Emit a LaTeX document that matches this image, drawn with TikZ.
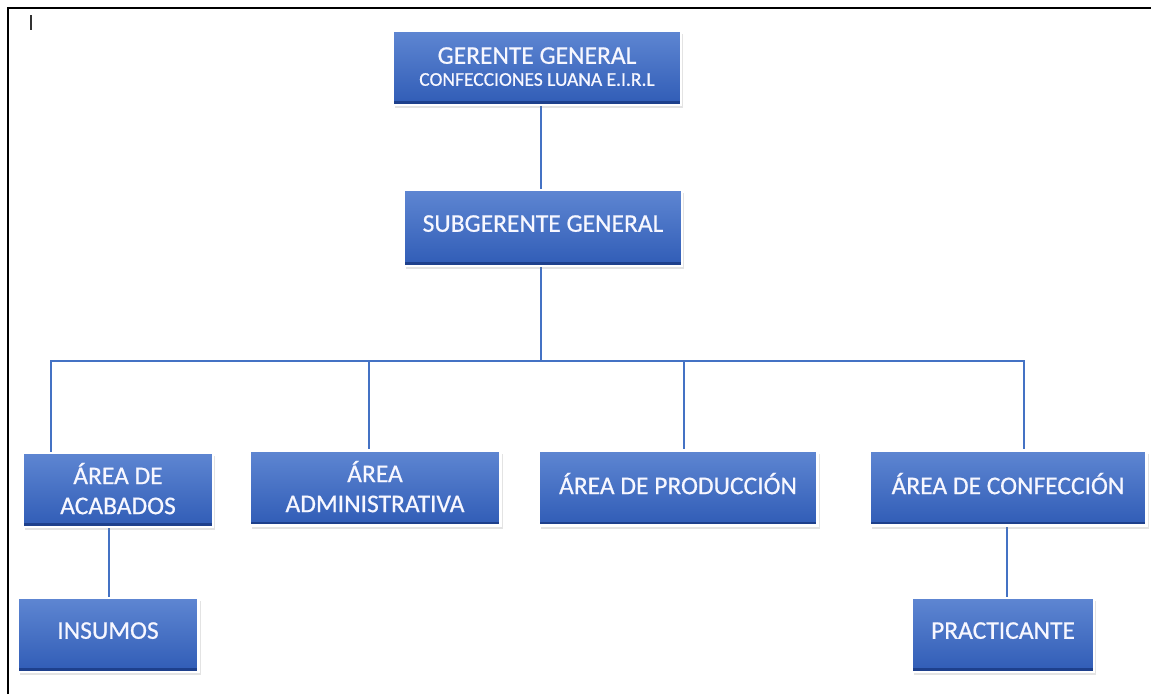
\documentclass[tikz,border=0pt]{standalone}
\usepackage{fontspec}
\setmainfont{Carlito}[FakeBold=0.6]
\usetikzlibrary{shadows,backgrounds}
\definecolor{boxtop}{RGB}{94,134,210}
\definecolor{boxbot}{RGB}{48,92,182}
\definecolor{boxedge}{RGB}{30,64,140}
\definecolor{conn}{RGB}{68,114,196}
\tikzset{
  orgbox/.style={draw=white, line width=2.5pt, top color=boxtop, bottom color=boxbot,
    drop shadow={opacity=0.22, shadow xshift=2pt, shadow yshift=-3pt},
    text=white!97!blue, align=center, inner sep=2pt, text depth=9pt,
    font=\fontsize{25.5}{30}\selectfont,
    path picture={\fill[boxedge] (path picture bounding box.south west) rectangle ([yshift=4pt]path picture bounding box.south east);}},
  twoline/.style={text depth=3pt},
  conline/.style={draw=conn, line width=1.4pt},
  frameline/.style={draw=black, line width=2pt}
}
\begin{document}
\begin{tikzpicture}[x=1pt,y=-1pt]
\useasboundingbox (0,0) rectangle (1151,694);
% frame
\draw[frameline] (8,694) -- (8,8) -- (1151,8);
\draw[black!80, line width=1.2pt] (31,15) -- (31,30);

% boxes
\node[orgbox, twoline, minimum width=288pt, minimum height=74pt] (ger) at (537,68)
  {GERENTE GENERAL\\[-8pt]{\fontsize{19.5}{22}\selectfont CONFECCIONES LUANA E.I.R.L}};
\node[orgbox, minimum width=278pt, minimum height=76pt] (sub) at (543,228) {SUBGERENTE GENERAL};
\node[orgbox, twoline, minimum width=190pt, minimum height=74pt] (aca) at (118,490) {ÁREA DE\\ACABADOS};
\node[orgbox, twoline, minimum width=251pt, minimum height=75pt] (adm) at (375,488) {ÁREA\\ADMINISTRATIVA};
\node[orgbox, minimum width=279pt, minimum height=75pt] (pro) at (678,488) {ÁREA DE PRODUCCIÓN};
\node[orgbox, minimum width=277pt, minimum height=75pt] (con) at (1008,488) {ÁREA DE CONFECCIÓN};
\node[orgbox, minimum width=181pt, minimum height=74pt] (ins) at (108,635) {INSUMOS};
\node[orgbox, minimum width=182pt, minimum height=74pt] (pra) at (1003,635) {PRACTICANTE};

% connector coordinates
\coordinate (j) at (541,361);
\coordinate (hL) at (51,361);
\coordinate (tA) at (369,361);
\coordinate (tP) at (684,361);
\coordinate (hR) at (1024,361);
\coordinate (cI) at (109,560);
\coordinate (cP) at (1007,560);

\begin{scope}[on background layer]
\draw[conline] (ger.south -| j) -- (sub.north -| j);
\draw[conline] (sub.south -| j) -- (j);
\draw[conline] (hL |- aca.north) -- (hL) -- (hR) -- (hR |- con.north);
\draw[conline] (tA) -- (tA |- adm.north);
\draw[conline] (tP) -- (tP |- pro.north);
\draw[conline] (cI |- aca.south) -- (cI |- ins.north);
\draw[conline] (cP |- con.south) -- (cP |- pra.north);
\end{scope}
\end{tikzpicture}
\end{document}
